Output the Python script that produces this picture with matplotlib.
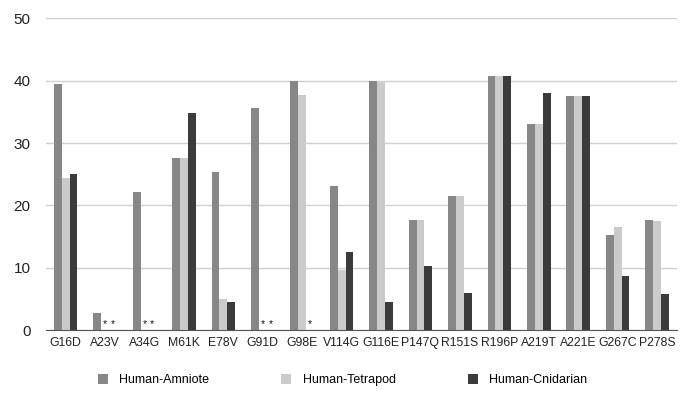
import numpy as np
import matplotlib
matplotlib.use("Agg")
import matplotlib.pyplot as plt
from matplotlib.patches import Patch

plt.rcParams['font.family'] = ['Liberation Sans', 'DejaVu Sans']

# Datos
mutaciones = ["G16D", "A23V", "A34G", "M61K", "E78V", "G91D", "G98E", "V114G",
              "G116E", "P147Q", "R151S", "R196P", "A219T", "A221E", "G267C", "P278S"]
amniote = [39.4, 2.8, 22.2, 27.6, 25.3, 35.7, 40.0, 23.1,
           40.0, 17.6, 21.5, 40.7, 33.1, 37.6, 15.2, 17.6]
tetrapod = [24.4, 0, 0, 27.6, 4.9, 0, 37.7, 9.7,
            39.8, 17.6, 21.5, 40.7, 33.1, 37.6, 16.5, 17.5]
cnidarian = [25.0, 0, 0, 34.8, 4.5, 0, 0, 12.5,
             4.5, 10.2, 6.0, 40.7, 38.0, 37.6, 8.7, 5.8]
series = ["Human-Amniote", "Human-Tetrapod", "Human-Cnidarian"]
colores = ["#878787", "#cbcbcb", "#3b3b3b"]

fig = plt.figure(figsize=(6.85, 4.0), dpi=100)
ax = fig.add_axes([0.067, 0.175, 0.921, 0.779])

x = np.arange(len(mutaciones))
w = 0.2
datos = [amniote, tetrapod, cnidarian]
for i, (vals, col) in enumerate(zip(datos, colores)):
    pos = x + (i - 1) * w
    ax.bar(pos, vals, width=w, color=col, zorder=3)
    # asteriscos donde el valor es cero
    for p, v in zip(pos, vals):
        if v == 0:
            ax.text(p, 0.2, "*", ha="center", va="bottom", fontsize=7.5, color="#111111", zorder=4)

ax.set_xlim(-0.5, len(mutaciones) - 0.5)
ax.set_ylim(0, 50)
ax.set_yticks([0, 10, 20, 30, 40, 50])
ax.set_xticks(x)
ax.set_xticklabels(mutaciones, fontsize=8.8, color="#222222")
ax.tick_params(axis="y", length=0, labelsize=11, colors="#222222", pad=11)
ax.tick_params(axis="x", length=0, pad=5)
ax.grid(axis="y", color="#d0d0d0", linewidth=1, zorder=0)
for s in ["left", "right", "top"]:
    ax.spines[s].set_visible(False)
ax.spines["bottom"].set_color("#555555")
ax.spines["bottom"].set_zorder(5)

handles = [Patch(facecolor=c, edgecolor="none") for c in colores]
fig.legend(handles, series, loc="center", bbox_to_anchor=(0.5, 0.05), ncol=3,
           frameon=False, fontsize=9, handlelength=0.8, handleheight=0.8,
           handletextpad=0.9, columnspacing=5.8)

fig.savefig("out.png", dpi=100)
